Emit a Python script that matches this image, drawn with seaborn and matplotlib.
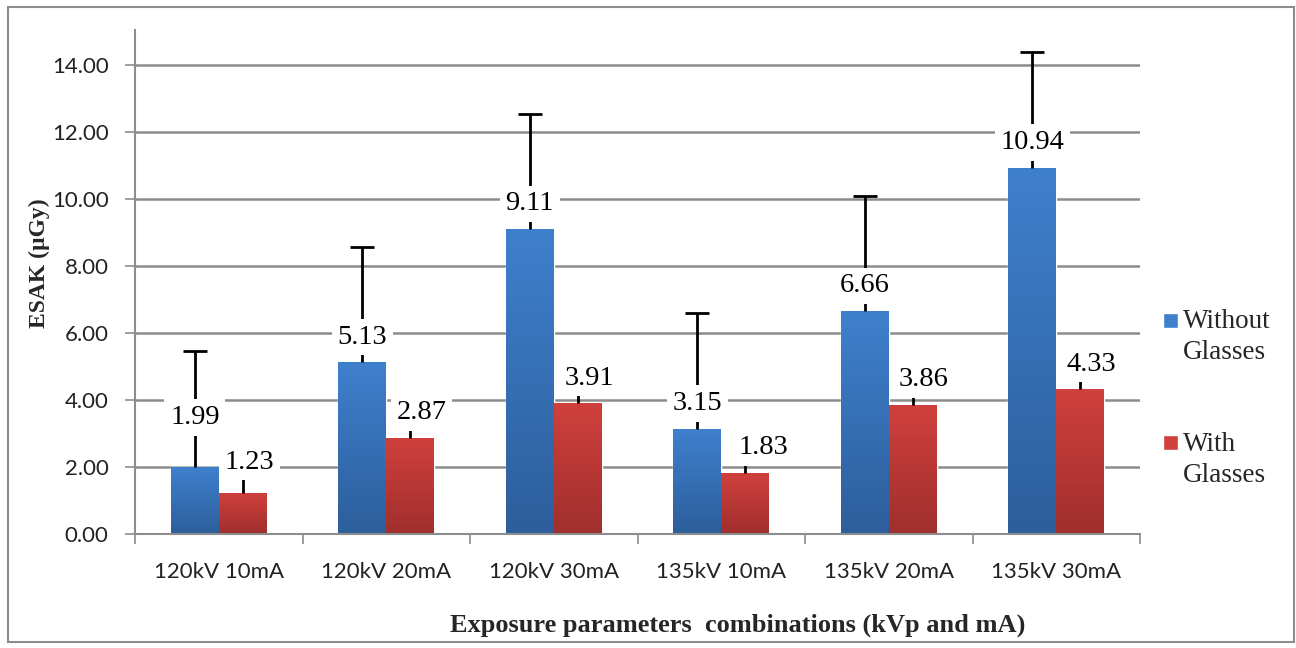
import numpy as np
import pandas as pd
import seaborn as sns
import matplotlib.pyplot as plt
import matplotlib.patches as mpatches
from matplotlib.colors import LinearSegmentedColormap
from matplotlib.legend_handler import HandlerPatch

# =============================================================================
# DATA
categories = ["120kV 10mA", "120kV 20mA", "120kV 30mA",
              "135kV 10mA", "135kV 20mA", "135kV 30mA"]
series = ["Without\nGlasses", "With\nGlasses"]
esak_without = [1.99, 5.13, 9.11, 3.15, 6.66, 10.94]
esak_with = [1.23, 2.87, 3.91, 1.83, 3.86, 4.33]
err_without = [3.47, 3.45, 3.43, 3.45, 3.43, 3.45]
err_with = [0.40, 0.40, 0.40, 0.40, 0.40, 0.40]
yticks = [0, 2, 4, 6, 8, 10, 12, 14]

df = pd.DataFrame({
    "cat": categories * 2,
    "group": [series[0]] * 6 + [series[1]] * 6,
    "val": esak_without + esak_with,
})

sns.set_theme(style="white")
plt.rcParams["font.family"] = ["Lato", "DejaVu Sans"]
serif = ["Liberation Serif", "DejaVu Serif"]

top_cols = ["#3f80cd", "#d0403c"]
bot_cols = ["#2d5e9c", "#a02f2d"]

fig = plt.figure(figsize=(12.96, 6.48), dpi=100)
ax = fig.add_axes([0.1042, 0.1759, 0.7755, 0.7778])

sns.barplot(data=df, x="cat", y="val", hue="group", hue_order=series,
            palette=top_cols, width=0.573, gap=0, errorbar=None,
            saturation=1, ax=ax, legend=False, zorder=2)

# gradient fill for each bar
bars = [p for p in ax.patches if isinstance(p, mpatches.Rectangle)]
grad = np.linspace(0, 1, 256).reshape(-1, 1)
for i, p in enumerate(bars):
    k = i // len(categories)
    cmap = LinearSegmentedColormap.from_list("g", [top_cols[k], bot_cols[k]])
    x0, w, h = p.get_x(), p.get_width(), p.get_height()
    im = ax.imshow(grad, cmap=cmap, aspect="auto", extent=[x0, x0 + w, 0, h],
                   origin="upper", zorder=2.1)
    im.set_clip_path(p)

# error bars (upper only, cap on top) and value labels
vals = [esak_without, esak_with]
errs = [err_without, err_with]
# label offsets in points (dx, dy), Excel nudges some labels aside
label_off = {(0, 0): (0, 36), (1, 0): (5, 22), (1, 3): (13, 18)}
for k in range(2):
    xs = [bars[k * 6 + j].get_x() + bars[k * 6 + j].get_width() / 2 for j in range(6)]
    _, caps, _ = ax.errorbar(xs, vals[k], yerr=[np.zeros(6), errs[k]], fmt="none",
                             ecolor="black", elinewidth=2, capsize=8.5,
                             capthick=2, zorder=3)
    caps[0].set_visible(False)
    if k == 1:
        caps[1].set_visible(False)
    for j, x in enumerate(xs):
        dx, dy = label_off.get((k, j), (0 if k == 0 else 8, 18))
        ax.annotate(f"{vals[k][j]:.2f}", (x, vals[k][j]), xytext=(dx, dy),
                    textcoords="offset points", ha="center", va="center",
                    fontsize=20.5, family=serif, color="black", zorder=5,
                    bbox=dict(boxstyle="square,pad=0.2", fc="white", ec="none"))

ax.set_xlim(-0.5, 5.5)
ax.set_ylim(0, 15.05)
ax.set_yticks(yticks)
ax.set_yticklabels([f"{v:.2f}" for v in yticks], fontsize=16, color="#222222")
ax.yaxis.grid(True, color="#8c8c8c", linewidth=1.8, zorder=0)
ax.set_axisbelow(True)
ax.tick_params(axis="y", length=7, width=1.2, color="#8c8c8c", pad=12, left=True)
ax.tick_params(axis="x", which="major", length=0, pad=20, labelsize=16,
               labelcolor="#222222")
ax.set_xticks(np.arange(-0.5, 6, 1), minor=True)
ax.tick_params(axis="x", which="minor", length=7, width=1.2, color="#8c8c8c",
               bottom=True, direction="out")
for s in ["top", "right"]:
    ax.spines[s].set_visible(False)
for s in ["left", "bottom"]:
    ax.spines[s].set_color("#8c8c8c")
    ax.spines[s].set_linewidth(1.5)

ax.set_xlabel("Exposure parameters  combinations (kVp and mA)", fontsize=19,
              fontweight="bold", family=serif)
ax.xaxis.set_label_coords(0.6, -0.158)
ax.set_ylabel("ESAK (\u00b5Gy)", fontsize=17, fontweight="bold", family=serif)
ax.yaxis.set_label_coords(-0.085, 0.538)


# legend with square marker next to first line
def square(legend, orig_handle, xdescent, ydescent, width, height, fontsize):
    s = 0.55 * fontsize
    return mpatches.Rectangle((0, height), s, s)


handles = [mpatches.Patch(facecolor=c) for c in top_cols]
leg = fig.legend(handles, series, loc="upper left",
                 bbox_to_anchor=(1163 / 1296, 1 - 309 / 648),
                 frameon=False, prop={"family": serif, "size": 19.5},
                 borderpad=0, borderaxespad=0,
                 handlelength=0.55, handletextpad=0.2, labelspacing=2.45,
                 handler_map={mpatches.Patch: HandlerPatch(patch_func=square)})
for t in leg.get_texts():
    t.set_linespacing(1.33)

# outer chart border
fig.patches.append(mpatches.Rectangle((8 / 1296, 6 / 648), 1286 / 1296, 635 / 648,
                                      transform=fig.transFigure, fill=False,
                                      ec="#8c8c8c", lw=1.5))

fig.savefig("out.png", dpi=100)
